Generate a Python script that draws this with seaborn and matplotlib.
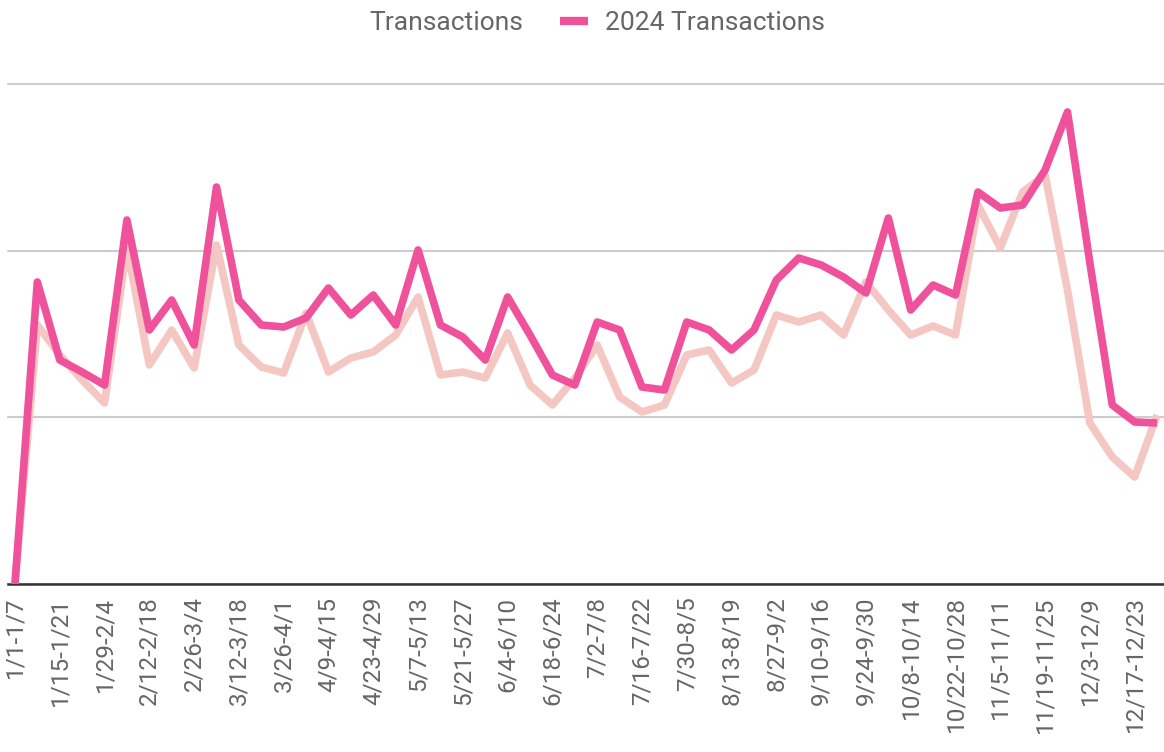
import matplotlib
matplotlib.use("Agg")
import matplotlib.pyplot as plt
import seaborn as sns
import pandas as pd
from matplotlib.lines import Line2D

# weekly buckets (x axis categories)
weeks = ["1/1-1/7", "1/8-1/14", "1/15-1/21", "1/22-1/28", "1/29-2/4", "2/5-2/11",
         "2/12-2/18", "2/19-2/25", "2/26-3/4", "3/5-3/11", "3/12-3/18", "3/19-3/25",
         "3/26-4/1", "4/2-4/8", "4/9-4/15", "4/16-4/22", "4/23-4/29", "4/30-5/6",
         "5/7-5/13", "5/14-5/20", "5/21-5/27", "5/28-6/3", "6/4-6/10", "6/11-6/17",
         "6/18-6/24", "6/25-7/1", "7/2-7/8", "7/9-7/15", "7/16-7/22", "7/23-7/29",
         "7/30-8/5", "8/6-8/12", "8/13-8/19", "8/20-8/26", "8/27-9/2", "9/3-9/9",
         "9/10-9/16", "9/17-9/23", "9/24-9/30", "10/1-10/7", "10/8-10/14", "10/15-10/21",
         "10/22-10/28", "10/29-11/4", "11/5-11/11", "11/12-11/18", "11/19-11/25",
         "11/26-12/2", "12/3-12/9", "12/10-12/16", "12/17-12/23", "12/24-12/30"]

# previous year (light line)
transactions = [0, 1554, 1374, 1224, 1086, 2022, 1314, 1524, 1296, 2034,
                1434, 1302, 1266, 1626, 1272, 1356, 1392, 1494, 1722, 1254,
                1272, 1236, 1506, 1194, 1074, 1236, 1434, 1122, 1032, 1074,
                1374, 1404, 1206, 1284, 1614, 1572, 1614, 1494, 1812, 1644,
                1494, 1548, 1494, 2274, 2016, 2352, 2454, 1764, 966, 762,
                642, 1014]

# 2024 (dark pink line)
transactions_2024 = [0, 1812, 1344, 1272, 1194, 2184, 1524, 1704, 1434, 2382,
                     1704, 1554, 1542, 1596, 1776, 1614, 1734, 1554, 2004, 1554,
                     1482, 1344, 1722, 1494, 1254, 1194, 1572, 1524, 1182, 1164,
                     1572, 1524, 1404, 1524, 1824, 1956, 1914, 1842, 1746, 2196,
                     1644, 1794, 1734, 2352, 2256, 2274, 2484, 2832, 1926, 1074,
                     972, 966]

n = len(weeks)
df = pd.DataFrame({
    "week": list(range(n)) * 2,
    "value": transactions + transactions_2024,
    "series": ["Transactions"] * n + ["2024 Transactions"] * n,
})

light = "#f4c7c3"
pink = "#ef519b"

sns.set_style("white")
plt.rcParams["font.family"] = ["Roboto", "DejaVu Sans"]

fig = plt.figure(figsize=(11.64, 7.52), dpi=100)
ax = fig.add_axes([8 / 1164, 1 - 584 / 752, 1156 / 1164, 500 / 752])

sns.lineplot(data=df, x="week", y="value", hue="series",
             hue_order=["Transactions", "2024 Transactions"],
             palette={"Transactions": light, "2024 Transactions": pink},
             linewidth=5.5, legend=False, ax=ax,
             solid_joinstyle="round", solid_capstyle="butt")

ax.set_xlim(-0.31, 51.31)
ax.set_ylim(0, 3000)
ax.set_yticks([0, 1000, 2000, 3000])
ax.set_yticklabels([])
ax.grid(axis="y", color="#cccccc", linewidth=1.5)
ax.grid(axis="x", visible=False)
for gl in ax.get_ygridlines():
    gl.set_clip_on(False)

ax.set_xticks(range(0, n, 2))
ax.set_xticklabels(weeks[::2], rotation=90, fontsize=17.5, color="#666666")
ax.tick_params(axis="both", length=0)
ax.tick_params(axis="x", pad=9)
ax.set_xlabel("")
ax.set_ylabel("")

for side in ["top", "left", "right"]:
    ax.spines[side].set_visible(False)
ax.spines["bottom"].set_color("#333333")
ax.spines["bottom"].set_linewidth(1.8)
ax.spines["bottom"].set_zorder(1)

handles = [Line2D([], [], color="none", lw=6),
           Line2D([], [], color=pink, lw=6, solid_capstyle="butt")]
fig.legend(handles=handles, labels=["Transactions", "2024 Transactions"],
           loc="center", bbox_to_anchor=(0.494, 1 - 23 / 752), ncol=2,
           frameon=False, fontsize=19, labelcolor="#666666",
           handlelength=1.06, handletextpad=0.64, columnspacing=1.4)

fig.savefig("out.png", dpi=100)
